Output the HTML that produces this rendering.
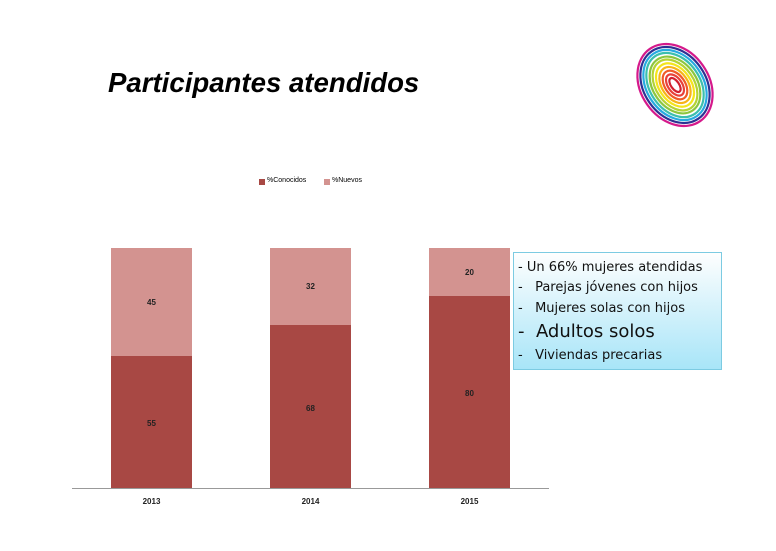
<!DOCTYPE html>
<html><head><style>
body{margin:0;width:776px;height:551px;background:#fff;position:relative;overflow:hidden;font-family:"Liberation Sans",sans-serif}
.a{position:absolute}
.t{left:108px;top:67px;font-size:27.6px;font-weight:bold;font-style:italic;color:#000}
.bar{position:absolute;width:81px}
.c{background:#a84844}.n{background:#d39390}
.lbl{position:absolute;font-size:8px;font-weight:bold;color:#222;width:81px;text-align:center}
.box{left:513px;top:252px;width:209px;height:118px;border:1px solid #7ccbe2;background:linear-gradient(#fefefe,#a8e5f8);font-family:"DejaVu Sans",sans-serif;color:#111;box-sizing:border-box}
.box div{position:absolute;left:4px;white-space:nowrap;font-size:13px}
</style></head><body>
<div class="a t">Participantes atendidos</div>
<svg class="a" style="left:630px;top:35px" width="90" height="95" viewBox="0 0 90 95">
<g fill="none" stroke-width="2.2" transform="rotate(-35 45 50)">
<ellipse cx="45" cy="50" rx="4" ry="8" stroke="#d2202f"/>
<ellipse cx="45" cy="50" rx="7" ry="12" stroke="#e8403a"/>
<ellipse cx="45" cy="50" rx="10" ry="16" stroke="#f05a28"/>
<ellipse cx="45" cy="50" rx="13" ry="20" stroke="#f7b418"/>
<ellipse cx="45" cy="50" rx="16" ry="24" stroke="#f4e51c"/>
<ellipse cx="45" cy="50" rx="19" ry="28" stroke="#b5d334"/>
<ellipse cx="45" cy="50" rx="22" ry="31" stroke="#8cc63f"/>
<ellipse cx="45" cy="50" rx="25" ry="35" stroke="#3cbfae"/>
<ellipse cx="45" cy="50" rx="28" ry="38" stroke="#27aae1"/>
<ellipse cx="45" cy="50" rx="31" ry="41" stroke="#2e3192"/>
<ellipse cx="45" cy="50" rx="34" ry="44" stroke="#d5198b"/>
</g></svg>
<div class="a" style="left:259px;top:179px;width:6px;height:6px;background:#a84844"></div>
<div class="a" style="left:267px;top:177px;font-size:7px">%Conocidos</div>
<div class="a" style="left:324px;top:179px;width:6px;height:6px;background:#d39390"></div>
<div class="a" style="left:332px;top:177px;font-size:7px">%Nuevos</div>
<div class="bar n" style="left:111px;top:248px;height:108px"></div>
<div class="bar c" style="left:111px;top:356px;height:132px"></div>
<div class="bar n" style="left:270px;top:248px;height:77px"></div>
<div class="bar c" style="left:270px;top:325px;height:163px"></div>
<div class="bar n" style="left:429px;top:248px;height:48px"></div>
<div class="bar c" style="left:429px;top:296px;height:192px"></div>
<div class="lbl" style="left:111px;top:298px">45</div>
<div class="lbl" style="left:111px;top:419px">55</div>
<div class="lbl" style="left:270px;top:282px">32</div>
<div class="lbl" style="left:270px;top:404px">68</div>
<div class="lbl" style="left:429px;top:268px">20</div>
<div class="lbl" style="left:429px;top:389px">80</div>
<div class="a" style="left:72px;top:488px;width:477px;height:1px;background:#999"></div>
<div class="lbl" style="left:111px;top:497px">2013</div>
<div class="lbl" style="left:270px;top:497px">2014</div>
<div class="lbl" style="left:429px;top:497px">2015</div>
<div class="a box">
<div style="top:7px">- Un 66% mujeres atendidas</div>
<div style="top:27px">-&nbsp;&nbsp;&nbsp;Parejas jóvenes con hijos</div>
<div style="top:48px">-&nbsp;&nbsp;&nbsp;Mujeres solas con hijos</div>
<div style="top:68px;font-size:18px">-&nbsp;&nbsp;Adultos solos</div>
<div style="top:95px">-&nbsp;&nbsp;&nbsp;Viviendas precarias</div>
</div>
</body></html>
